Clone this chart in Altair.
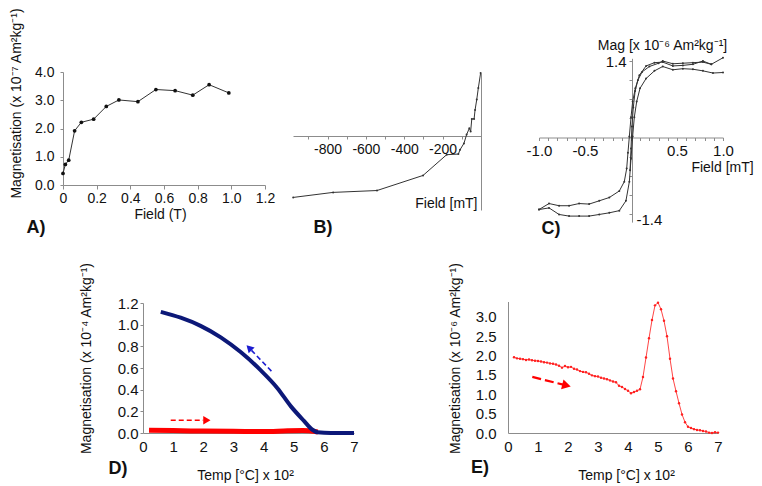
import altair as alt
import pandas as pd

FONT = "Liberation Sans"

# ---------------- Panel A ----------------
a_field = [0.0, 0.014, 0.034, 0.069, 0.109, 0.182, 0.257, 0.332, 0.445, 0.552, 0.666, 0.771, 0.868, 0.985]
a_mag = [0.41, 0.73, 0.88, 1.92, 2.22, 2.33, 2.78, 3.01, 2.95, 3.38, 3.34, 3.18, 3.55, 3.26]

# ---------------- Panel B ----------------
b_field = [-979, -771, -542, -302, -179, -118, -109, -89, -75, -61, -54, -48, -36, -31, -22, -14, -2]
b_mag = [-0.98, -0.90, -0.87, -0.63, -0.30, -0.29, -0.22, -0.12, 0.02, 0.12, 0.07, 0.27, 0.27, 0.41, 0.58, 0.76, 1.0]

# ---------------- Panel C ----------------
c1_field = [1.0, 0.873, 0.782, 0.673, 0.564, 0.455, 0.345, 0.255, 0.164, 0.091, 0.047, 0.018, 0.0, -0.018,
            -0.033, -0.047, -0.073, -0.127, -0.236, -0.345, -0.455, -0.564, -0.673, -0.782, -0.891, -1.0]
c1_mag = [1.46, 1.34, 1.40, 1.34, 1.32, 1.31, 1.38, 1.37, 1.31, 1.14, 0.90, 0.66, 0.37, 0.02,
          -0.28, -0.57, -0.81, -0.98, -1.10, -1.16, -1.22, -1.21, -1.25, -1.25, -1.21, -1.32]
c2_field = [-1.0, -0.891, -0.782, -0.673, -0.564, -0.455, -0.345, -0.236, -0.127, -0.055, -0.018, 0.0, 0.018,
            0.036, 0.062, 0.098, 0.164, 0.255, 0.345, 0.455, 0.564, 0.673, 0.782, 0.891, 1.0]
c2_mag = [-1.32, -1.29, -1.41, -1.44, -1.44, -1.44, -1.41, -1.38, -1.34, -1.16, -0.81, -0.39, 0.02,
          0.37, 0.66, 0.90, 1.08, 1.22, 1.30, 1.24, 1.26, 1.25, 1.22, 1.18, 1.19]
c3_field = [-0.01, 0.0, 0.01, 0.025, 0.045, 0.075, 0.12, 0.2, 0.3, 0.345, 0.455, 0.564, 0.673, 0.782, 0.873]
c3_mag = [-0.6, -0.2, 0.2, 0.55, 0.85, 1.05, 1.2, 1.3, 1.36, 1.40, 1.35, 1.36, 1.37, 1.38, 1.34]

# ---------------- Panel D ----------------
d_blue_t = [0.59, 1.25, 1.91, 2.58, 3.24, 3.90, 4.46, 4.90, 5.34, 5.62, 5.79, 6.23, 7.0]
d_blue_m = [1.118, 1.064, 0.989, 0.883, 0.747, 0.580, 0.414, 0.248, 0.112, 0.030, 0.006, 0.0, 0.0]
d_red_t = [0.2, 1.0, 2.0, 3.0, 4.0, 4.8, 5.3, 5.8]
d_red_m = [0.025, 0.022, 0.018, 0.016, 0.013, 0.020, 0.022, 0.010]
d_arrow_red_t = [0.92, 2.0]
d_arrow_red_m = [0.118, 0.118]
d_arrow_red_head = [2.12, 0.118]
d_arrow_blue_t = [4.26, 3.60]
d_arrow_blue_m = [0.571, 0.763]
d_arrow_blue_head = [3.52, 0.786]

# ---------------- Panel E ----------------
e_t = [0.2, 0.3, 0.4, 0.5, 0.6, 0.7, 0.8, 0.9, 1.0, 1.1, 1.2, 1.3, 1.4, 1.5, 1.6, 1.7, 1.8, 1.9, 2.0,
       2.1, 2.2, 2.3, 2.4, 2.5, 2.6, 2.7, 2.8, 2.9, 3.0, 3.1, 3.2, 3.3, 3.4, 3.5, 3.6, 3.7, 3.8, 3.9,
       4.0, 4.1, 4.2, 4.3, 4.4, 4.5, 4.6, 4.7, 4.8, 4.9, 5.0, 5.1, 5.2, 5.3, 5.4, 5.5, 5.6, 5.7, 5.8,
       5.9, 6.0, 6.1, 6.2, 6.3, 6.4, 6.5, 6.6, 6.7, 6.8, 6.9, 7.0]
e_m = [1.96, 1.93, 1.92, 1.91, 1.89, 1.90, 1.88, 1.87, 1.86, 1.85, 1.83, 1.82, 1.80, 1.79, 1.77, 1.74,
       1.69, 1.73, 1.70, 1.71, 1.66, 1.64, 1.60, 1.58, 1.57, 1.53, 1.49, 1.47, 1.46, 1.43, 1.41, 1.39,
       1.36, 1.33, 1.31, 1.22, 1.19, 1.14, 1.09, 1.03, 1.06, 1.09, 1.13, 1.45, 1.95, 2.45, 2.92, 3.30,
       3.37, 3.20, 2.90, 2.50, 1.92, 1.41, 1.08, 0.77, 0.48, 0.28, 0.16, 0.13, 0.10, 0.08, 0.07, 0.05,
       0.04, 0.01, 0.00, 0.02, 0.01]
e_arrow_t = [0.81, 1.84]
e_arrow_m = [1.45, 1.25]
e_arrow_head = [1.95, 1.23]

A_TXT = "Magnetisation (x 10\u207b\u2077 Am\u00b2kg\u207b\u00b9)"
D_TXT = "Magnetisation (x 10\u207b\u2074 Am\u00b2kg\u207b\u00b9)"
E_TXT = "Magnetisation (x 10\u207b\u2076 Am\u00b2kg\u207b\u00b9)"
C_TXT = "Mag [x 10\u207b\u2076 Am\u00b2kg\u207b\u00b9]"
TEMP_TXT = "Temp [\u00b0C] x 10\u00b2"


def sc(domain, rng):
    return alt.Scale(domain=domain, range=rng, nice=False, zero=False)


AX = dict(grid=False, labelFont=FONT, titleFont=FONT, titleFontSize=14,
          titleFontWeight="normal", domainColor="#8c8c8c", tickColor="#8c8c8c",
          labelColor="#111111", titleColor="#111111", labelFlush=False, labelOverlap=False)

# scales (chart coordinates = image coordinates - 8)
A_X = sc([0, 1.2], [55, 257]);      A_Y = sc([0, 4], [177, 64])
B_X = sc([-980, 0], [285, 473]);    B_Y = sc([-1.18, 1.0], [202, 65])
C_X = sc([-1, 1], [531, 715]);      C_Y = sc([-1.55, 1.45], [214.1, 50.3])
D_X = sc([0, 7], [135, 346]);       D_Y = sc([0, 1.2], [425, 295])
E_X = sc([0, 7], [500, 710]);       E_Y = sc([0, 3.4], [425, 293.5])

H = 476

layers = []

# ---- A ----
dfa = pd.DataFrame({"x": a_field, "y": a_mag})
layers.append(alt.Chart(dfa).mark_line(color="#333333", strokeWidth=1).encode(
    x=alt.X("x:Q", scale=A_X, axis=alt.Axis(
        orient="bottom", offset=177 - H, values=[0, 0.2, 0.4, 0.6, 0.8, 1.0, 1.2], tickSize=4, labelPadding=2,
        labelFontSize=14,
        labelExpr="datum.value == 0 ? '0' : format(datum.value, '.1f')",
        title="Field (T)", titleX=152, titleY=29, titleAlign="center", titleBaseline="middle", **AX)),
    y=alt.Y("y:Q", scale=A_Y, axis=alt.Axis(
        orient="left", offset=-55, values=[0, 1, 2, 3, 4], format=".1f", tickSize=3, labelPadding=6,
        labelFontSize=14,
        title=A_TXT, titleAngle=270, titleX=-47, titleY=95, titleAlign="center", titleBaseline="middle", **AX))))
layers.append(alt.Chart(dfa).mark_point(filled=True, color="#111111", size=14, opacity=1).encode(
    x=alt.X("x:Q", scale=A_X, axis=None), y=alt.Y("y:Q", scale=A_Y, axis=None)))

# ---- B ----
dfb = pd.DataFrame({"x": b_field, "y": b_mag})
layers.append(alt.Chart(dfb).mark_line(color="#333333", strokeWidth=1).encode(
    x=alt.X("x:Q", scale=B_X, axis=alt.Axis(
        orient="bottom", offset=128 - H, values=[-900, -800, -700, -600, -500, -400, -300, -200, -100],
        tickSize=3, labelPadding=3, labelFontSize=14,
        labelExpr="(datum.value % 200 == 0) ? '-' + format(abs(datum.value), 'd') : ''",
        title="Field [mT]", titleX=469, titleY=67, titleAlign="right", titleBaseline="middle", **AX)),
    y=alt.Y("y:Q", scale=B_Y, axis=alt.Axis(
        orient="left", offset=-473, ticks=False, labels=False, title=None, grid=False,
        domainColor="#8c8c8c"))))
layers.append(alt.Chart(dfb).mark_point(filled=True, color="#333333", size=4, opacity=1).encode(
    x=alt.X("x:Q", scale=B_X, axis=None), y=alt.Y("y:Q", scale=B_Y, axis=None)))

# ---- C ----
dfc = pd.concat([
    pd.DataFrame({"x": c1_field, "y": c1_mag, "b": "1", "o": range(len(c1_field))}),
    pd.DataFrame({"x": c2_field, "y": c2_mag, "b": "2", "o": range(len(c2_field))}),
    pd.DataFrame({"x": c3_field, "y": c3_mag, "b": "3", "o": range(len(c3_field))}),
])
c_xvals = [round(-1 + 0.1 * i, 1) for i in range(21)]
c_yvals = [-1.4, -1.05, -0.7, -0.35, 0, 0.35, 0.7, 1.05, 1.4]
layers.append(alt.Chart(dfc).mark_line(color="#333333", strokeWidth=1).encode(
    x=alt.X("x:Q", scale=C_X, axis=alt.Axis(
        orient="bottom", offset=129.5 - H, values=c_xvals, tickSize=3, labelPadding=3,
        labelFontSize=15,
        labelExpr="(abs(abs(datum.value) - 0.5) < 0.01 || abs(abs(datum.value) - 1) < 0.01) ? replace(format(datum.value, '.1f'), '\u2212', '-') : ''",
        title="Field [mT]", titleX=714, titleY=30, titleAlign="center", titleBaseline="middle", **AX)),
    y=alt.Y("y:Q", scale=C_Y, axis=alt.Axis(
        orient="left", offset=-624, values=c_yvals, tickSize=3, labelPadding=3, labelFontSize=15,
        labelExpr="datum.value == 1.4 ? '1.4' : ''",
        title=C_TXT, titleAngle=0, titleX=30, titleY=37, titleAlign="center", titleBaseline="middle", **AX)),
    detail="b:N", order="o:Q"))
layers.append(alt.Chart(dfc).mark_point(filled=True, color="#333333", size=4, opacity=1).encode(
    x=alt.X("x:Q", scale=C_X, axis=None),
    y=alt.Y("y:Q", scale=C_Y, axis=alt.Axis(
        orient="right", offset=624 - 746, values=[-1.4], ticks=False, domain=False, labelPadding=4,
        labelOffset=6, labelFontSize=15,
        labelExpr="'-1.4'", title=None, **AX))))

# ---- D ----
dfd = pd.concat([
    pd.DataFrame({"x": d_red_t, "y": d_red_m, "s": "red"}),
    pd.DataFrame({"x": d_blue_t, "y": d_blue_m, "s": "blue"}),
])
layers.append(alt.Chart(dfd[dfd.s == "red"]).mark_line(color="#ff0000", strokeWidth=5, interpolate="monotone").encode(
    x=alt.X("x:Q", scale=D_X, axis=alt.Axis(
        orient="bottom", offset=425 - H, values=list(range(8)), format="d", tickSize=0, labelPadding=6,
        labelFontSize=15,
        title=TEMP_TXT, titleX=237, titleY=42, titleAlign="center", titleBaseline="middle", **AX)),
    y=alt.Y("y:Q", scale=D_Y, axis=alt.Axis(
        orient="left", offset=-135, values=[0, 0.2, 0.4, 0.6, 0.8, 1.0, 1.2], format=".1f", tickSize=3,
        labelPadding=2, labelFontSize=15,
        title=D_TXT, titleAngle=270, titleX=-57, titleY=350, titleAlign="center", titleBaseline="middle", **AX))))
layers.append(alt.Chart(dfd[dfd.s == "blue"]).mark_line(color="#0c1878", strokeWidth=4, interpolate="monotone").encode(
    x=alt.X("x:Q", scale=D_X, axis=None), y=alt.Y("y:Q", scale=D_Y, axis=None)))
dra = pd.DataFrame({"x": [d_arrow_red_t[0]], "x2": [d_arrow_red_t[1]],
                    "y": [d_arrow_red_m[0]], "y2": [d_arrow_red_m[1]]})
layers.append(alt.Chart(dra).mark_rule(color="#ff0000", strokeWidth=1.6, strokeDash=[5, 3]).encode(
    x=alt.X("x:Q", scale=D_X, axis=None), x2="x2:Q", y=alt.Y("y:Q", scale=D_Y, axis=None), y2="y2:Q"))
layers.append(alt.Chart(pd.DataFrame({"x": [d_arrow_red_head[0]], "y": [d_arrow_red_head[1]]})).mark_point(
    shape="triangle-right", filled=True, color="#ff0000", size=70, opacity=1).encode(
    x=alt.X("x:Q", scale=D_X, axis=None), y=alt.Y("y:Q", scale=D_Y, axis=None)))
dba = pd.DataFrame({"x": [d_arrow_blue_t[0]], "x2": [d_arrow_blue_t[1]],
                    "y": [d_arrow_blue_m[0]], "y2": [d_arrow_blue_m[1]]})
layers.append(alt.Chart(dba).mark_rule(color="#1c1cd0", strokeWidth=1.6, strokeDash=[5, 3]).encode(
    x=alt.X("x:Q", scale=D_X, axis=None), x2="x2:Q", y=alt.Y("y:Q", scale=D_Y, axis=None), y2="y2:Q"))
layers.append(alt.Chart(pd.DataFrame({"x": [d_arrow_blue_head[0]], "y": [d_arrow_blue_head[1]]})).mark_point(
    shape="triangle-up", filled=True, color="#1c1cd0", size=70, opacity=1, angle=316).encode(
    x=alt.X("x:Q", scale=D_X, axis=None), y=alt.Y("y:Q", scale=D_Y, axis=None)))

# ---- E ----
dfe = pd.DataFrame({"x": e_t, "y": e_m})
layers.append(alt.Chart(dfe).mark_line(color="#ff3030", strokeWidth=0.9).encode(
    x=alt.X("x:Q", scale=E_X, axis=alt.Axis(
        orient="bottom", offset=425 - H, values=list(range(8)), format="d", tickSize=0, labelPadding=6,
        labelFontSize=15,
        title=TEMP_TXT, titleX=618, titleY=42, titleAlign="center", titleBaseline="middle", **AX)),
    y=alt.Y("y:Q", scale=E_Y, axis=alt.Axis(
        orient="left", offset=-500, values=[0, 0.5, 1.0, 1.5, 2.0, 2.5, 3.0], format=".1f", tickSize=0,
        labelPadding=12, labelFontSize=15,
        title=E_TXT, titleAngle=270, titleX=-53, titleY=350, titleAlign="center", titleBaseline="middle", **AX))))
layers.append(alt.Chart(dfe).mark_point(filled=True, color="#ff2020", size=6, opacity=1).encode(
    x=alt.X("x:Q", scale=E_X, axis=None), y=alt.Y("y:Q", scale=E_Y, axis=None)))
dea = pd.DataFrame({"x": [e_arrow_t[0]], "x2": [e_arrow_t[1]], "y": [e_arrow_m[0]], "y2": [e_arrow_m[1]]})
layers.append(alt.Chart(dea).mark_rule(color="#ff0000", strokeWidth=2.2, strokeDash=[9, 4]).encode(
    x=alt.X("x:Q", scale=E_X, axis=None), x2="x2:Q", y=alt.Y("y:Q", scale=E_Y, axis=None), y2="y2:Q"))
layers.append(alt.Chart(pd.DataFrame({"x": [e_arrow_head[0]], "y": [e_arrow_head[1]]})).mark_point(
    shape="triangle-right", filled=True, color="#ff0000", size=100, opacity=1, angle=14).encode(
    x=alt.X("x:Q", scale=E_X, axis=None), y=alt.Y("y:Q", scale=E_Y, axis=None)))

# ---- panel letters ----
panel_labels = ["A)", "B)", "C)", "D)", "E)"]
label_pos = [(28, 220), (315, 220), (543, 221), (110, 461), (472, 460)]
for lab, (px, py) in zip(panel_labels, label_pos):
    layers.append(alt.Chart(pd.DataFrame({"t": [lab]})).mark_text(
        font=FONT, fontSize=18, fontWeight="bold", color="#111111", align="center", baseline="middle").encode(
        x=alt.value(px), y=alt.value(py), text="t:N"))

chart = alt.layer(*layers).resolve_scale(x="independent", y="independent").resolve_axis(
    x="independent", y="independent").properties(
    width=746, height=H, autosize=alt.AutoSizeParams(type="none"), padding=0,
    background="white").configure_view(stroke=None)

chart.save("out.html", embed_options={"renderer": "svg", "actions": False})
